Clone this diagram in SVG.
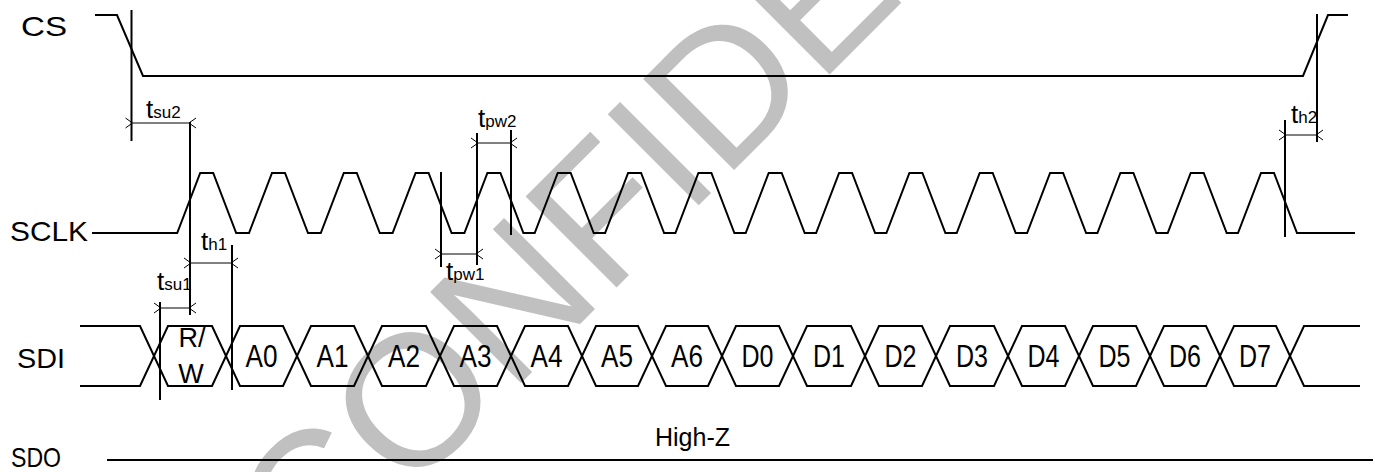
<svg xmlns="http://www.w3.org/2000/svg" width="1375" height="472" viewBox="0 0 1375 472">
<defs>
<marker id="ah" viewBox="-1 -6 10 12" markerWidth="10" markerHeight="12" refX="0" refY="0" orient="auto-start-reverse" markerUnits="userSpaceOnUse">
<path d="M7,-5 L0,0 L7,5" fill="none" stroke="#000" stroke-width="1"/>
</marker>
<style>
.wave{fill:none;stroke:#000;stroke-width:2;stroke-linejoin:miter}
.ref{stroke:#000;stroke-width:2}
.dim{stroke:#000;stroke-width:1;marker-start:url(#ah);marker-end:url(#ah)}
.lbl{font-family:"Liberation Sans",Arial,sans-serif;font-size:28px;fill:#000}
.cell{font-family:"Liberation Sans",Arial,sans-serif;font-size:31px;fill:#000;text-anchor:middle}
.tl{font-family:"Liberation Sans",Arial,sans-serif;fill:#000}
.tb{font-size:26px}
.ts{font-size:17px}
.wm{font-family:"Liberation Sans",Arial,sans-serif;font-size:187px;fill:#c0c0c0}
</style>
</defs>
<rect width="1375" height="472" fill="#fff"/>
<g id="watermark">
<text class="wm" transform="translate(312,592) rotate(-45)">CONFIDENTIAL</text>
</g>
<g id="sig-cs">
<text class="lbl" x="21" y="36" textLength="46" lengthAdjust="spacingAndGlyphs">CS</text>
<path class="wave" d="M95,15 H117 L143,76 H1303 L1328,15 H1348"/>
</g>
<g id="sig-sclk">
<text class="lbl" x="10" y="241" textLength="78" lengthAdjust="spacingAndGlyphs">SCLK</text>
<path class="wave" d="M92,233 L177.2,233 L200.2,173 L213.2,173 L236.2,233 L249,233 L272,173 L285,173 L308,233 L320.8,233 L343.8,173 L356.8,173 L379.8,233 L392.6,233 L415.6,173 L428.6,173 L451.6,233 L464.4,233 L487.4,173 L500.4,173 L523.4,233 L534.7,233 L557.7,173 L570.7,173 L593.7,233 L605.1,233 L628.1,173 L641.1,173 L664.1,233 L675.4,233 L698.4,173 L711.4,173 L734.4,233 L745.7,233 L768.7,173 L781.7,173 L804.7,233 L816.1,233 L839.1,173 L852.1,173 L875.1,233 L886.4,233 L909.4,173 L922.4,173 L945.4,233 L956.7,233 L979.7,173 L992.7,173 L1015.7,233 L1027.1,233 L1050.1,173 L1063.1,173 L1086.1,233 L1097.4,233 L1120.4,173 L1133.4,173 L1156.4,233 L1167.7,233 L1190.7,173 L1203.7,173 L1226.7,233 L1238,233 L1261,173 L1274,173 L1297,233 L1355,233"/>
</g>
<g id="sig-sdi">
<text class="lbl" x="17" y="368" textLength="48" lengthAdjust="spacingAndGlyphs">SDI</text>
<path class="wave" d="M80,326 H140 L168,386 H212 L240,326 H283 L311,386 H354 L382,326 H426 L454,386 H497 L525,326 H568 L596,386 H638 L666,326 H708 L736,386 H779 L807,326 H851 L879,386 H922 L950,326 H994 L1022,386 H1065 L1093,326 H1136 L1164,386 H1206 L1234,326 H1276 L1304,386 H1360"/>
<path class="wave" d="M80,386 H140 L168,326 H212 L240,386 H283 L311,326 H354 L382,386 H426 L454,326 H497 L525,386 H568 L596,326 H638 L666,386 H708 L736,326 H779 L807,386 H851 L879,326 H922 L950,386 H994 L1022,326 H1065 L1093,386 H1136 L1164,326 H1206 L1234,386 H1276 L1304,326 H1360"/>
<text class="cell" style="font-size:27px" x="192" y="347">R/</text>
<text class="cell" style="font-size:27px" x="191" y="383">W</text>
<text class="cell" x="261.5" y="367" textLength="32" lengthAdjust="spacingAndGlyphs">A0</text>
<text class="cell" x="332.5" y="367" textLength="32" lengthAdjust="spacingAndGlyphs">A1</text>
<text class="cell" x="404" y="367" textLength="32" lengthAdjust="spacingAndGlyphs">A2</text>
<text class="cell" x="475.5" y="367" textLength="32" lengthAdjust="spacingAndGlyphs">A3</text>
<text class="cell" x="546.5" y="367" textLength="32" lengthAdjust="spacingAndGlyphs">A4</text>
<text class="cell" x="617" y="367" textLength="32" lengthAdjust="spacingAndGlyphs">A5</text>
<text class="cell" x="687" y="367" textLength="32" lengthAdjust="spacingAndGlyphs">A6</text>
<text class="cell" x="757.5" y="367" textLength="32" lengthAdjust="spacingAndGlyphs">D0</text>
<text class="cell" x="829" y="367" textLength="32" lengthAdjust="spacingAndGlyphs">D1</text>
<text class="cell" x="900.5" y="367" textLength="32" lengthAdjust="spacingAndGlyphs">D2</text>
<text class="cell" x="972" y="367" textLength="32" lengthAdjust="spacingAndGlyphs">D3</text>
<text class="cell" x="1043.5" y="367" textLength="32" lengthAdjust="spacingAndGlyphs">D4</text>
<text class="cell" x="1114.5" y="367" textLength="32" lengthAdjust="spacingAndGlyphs">D5</text>
<text class="cell" x="1185" y="367" textLength="32" lengthAdjust="spacingAndGlyphs">D6</text>
<text class="cell" x="1255" y="367" textLength="32" lengthAdjust="spacingAndGlyphs">D7</text>
</g>
<g id="sig-sdo">
<text class="lbl" x="11" y="467" textLength="50" lengthAdjust="spacingAndGlyphs">SDO</text>
<path class="wave" d="M107,460 H1373"/>
<text class="lbl" style="font-size:25px" x="655" y="446">High-Z</text>
</g>
<g id="connectors">
<line class="ref" x1="131.5" y1="10" x2="131.5" y2="141"/>
<line class="ref" x1="190" y1="122" x2="190" y2="315"/>
<line class="ref" x1="160" y1="302" x2="160" y2="400"/>
<line class="ref" x1="232" y1="245" x2="232" y2="390"/>
<line class="ref" x1="441" y1="172" x2="441" y2="267"/>
<line class="ref" x1="477" y1="133" x2="477" y2="265"/>
<line class="ref" x1="511" y1="130" x2="511" y2="235"/>
<line class="ref" x1="1285" y1="120" x2="1285" y2="237"/>
<line class="ref" x1="1317" y1="14" x2="1317" y2="142"/>
<line class="dim" x1="132.5" y1="123" x2="189" y2="123"/>
<line class="dim" x1="161" y1="308" x2="189" y2="308"/>
<line class="dim" x1="191" y1="263" x2="231" y2="263"/>
<line class="dim" x1="442" y1="254" x2="476" y2="254"/>
<line class="dim" x1="478" y1="143" x2="510" y2="143"/>
<line class="dim" x1="1286" y1="135" x2="1316" y2="135"/>
</g>
<g id="timing-labels">
<text class="tl" x="146" y="118"><tspan class="tb">t</tspan><tspan class="ts">su2</tspan></text>
<text class="tl" x="157" y="290"><tspan class="tb">t</tspan><tspan class="ts">su1</tspan></text>
<text class="tl" x="201" y="250"><tspan class="tb">t</tspan><tspan class="ts">h1</tspan></text>
<text class="tl" x="478" y="127"><tspan class="tb">t</tspan><tspan class="ts">pw2</tspan></text>
<text class="tl" x="446" y="280"><tspan class="tb">t</tspan><tspan class="ts">pw1</tspan></text>
<text class="tl" x="1291" y="123"><tspan class="tb">t</tspan><tspan class="ts">h2</tspan></text>
</g>
</svg>
